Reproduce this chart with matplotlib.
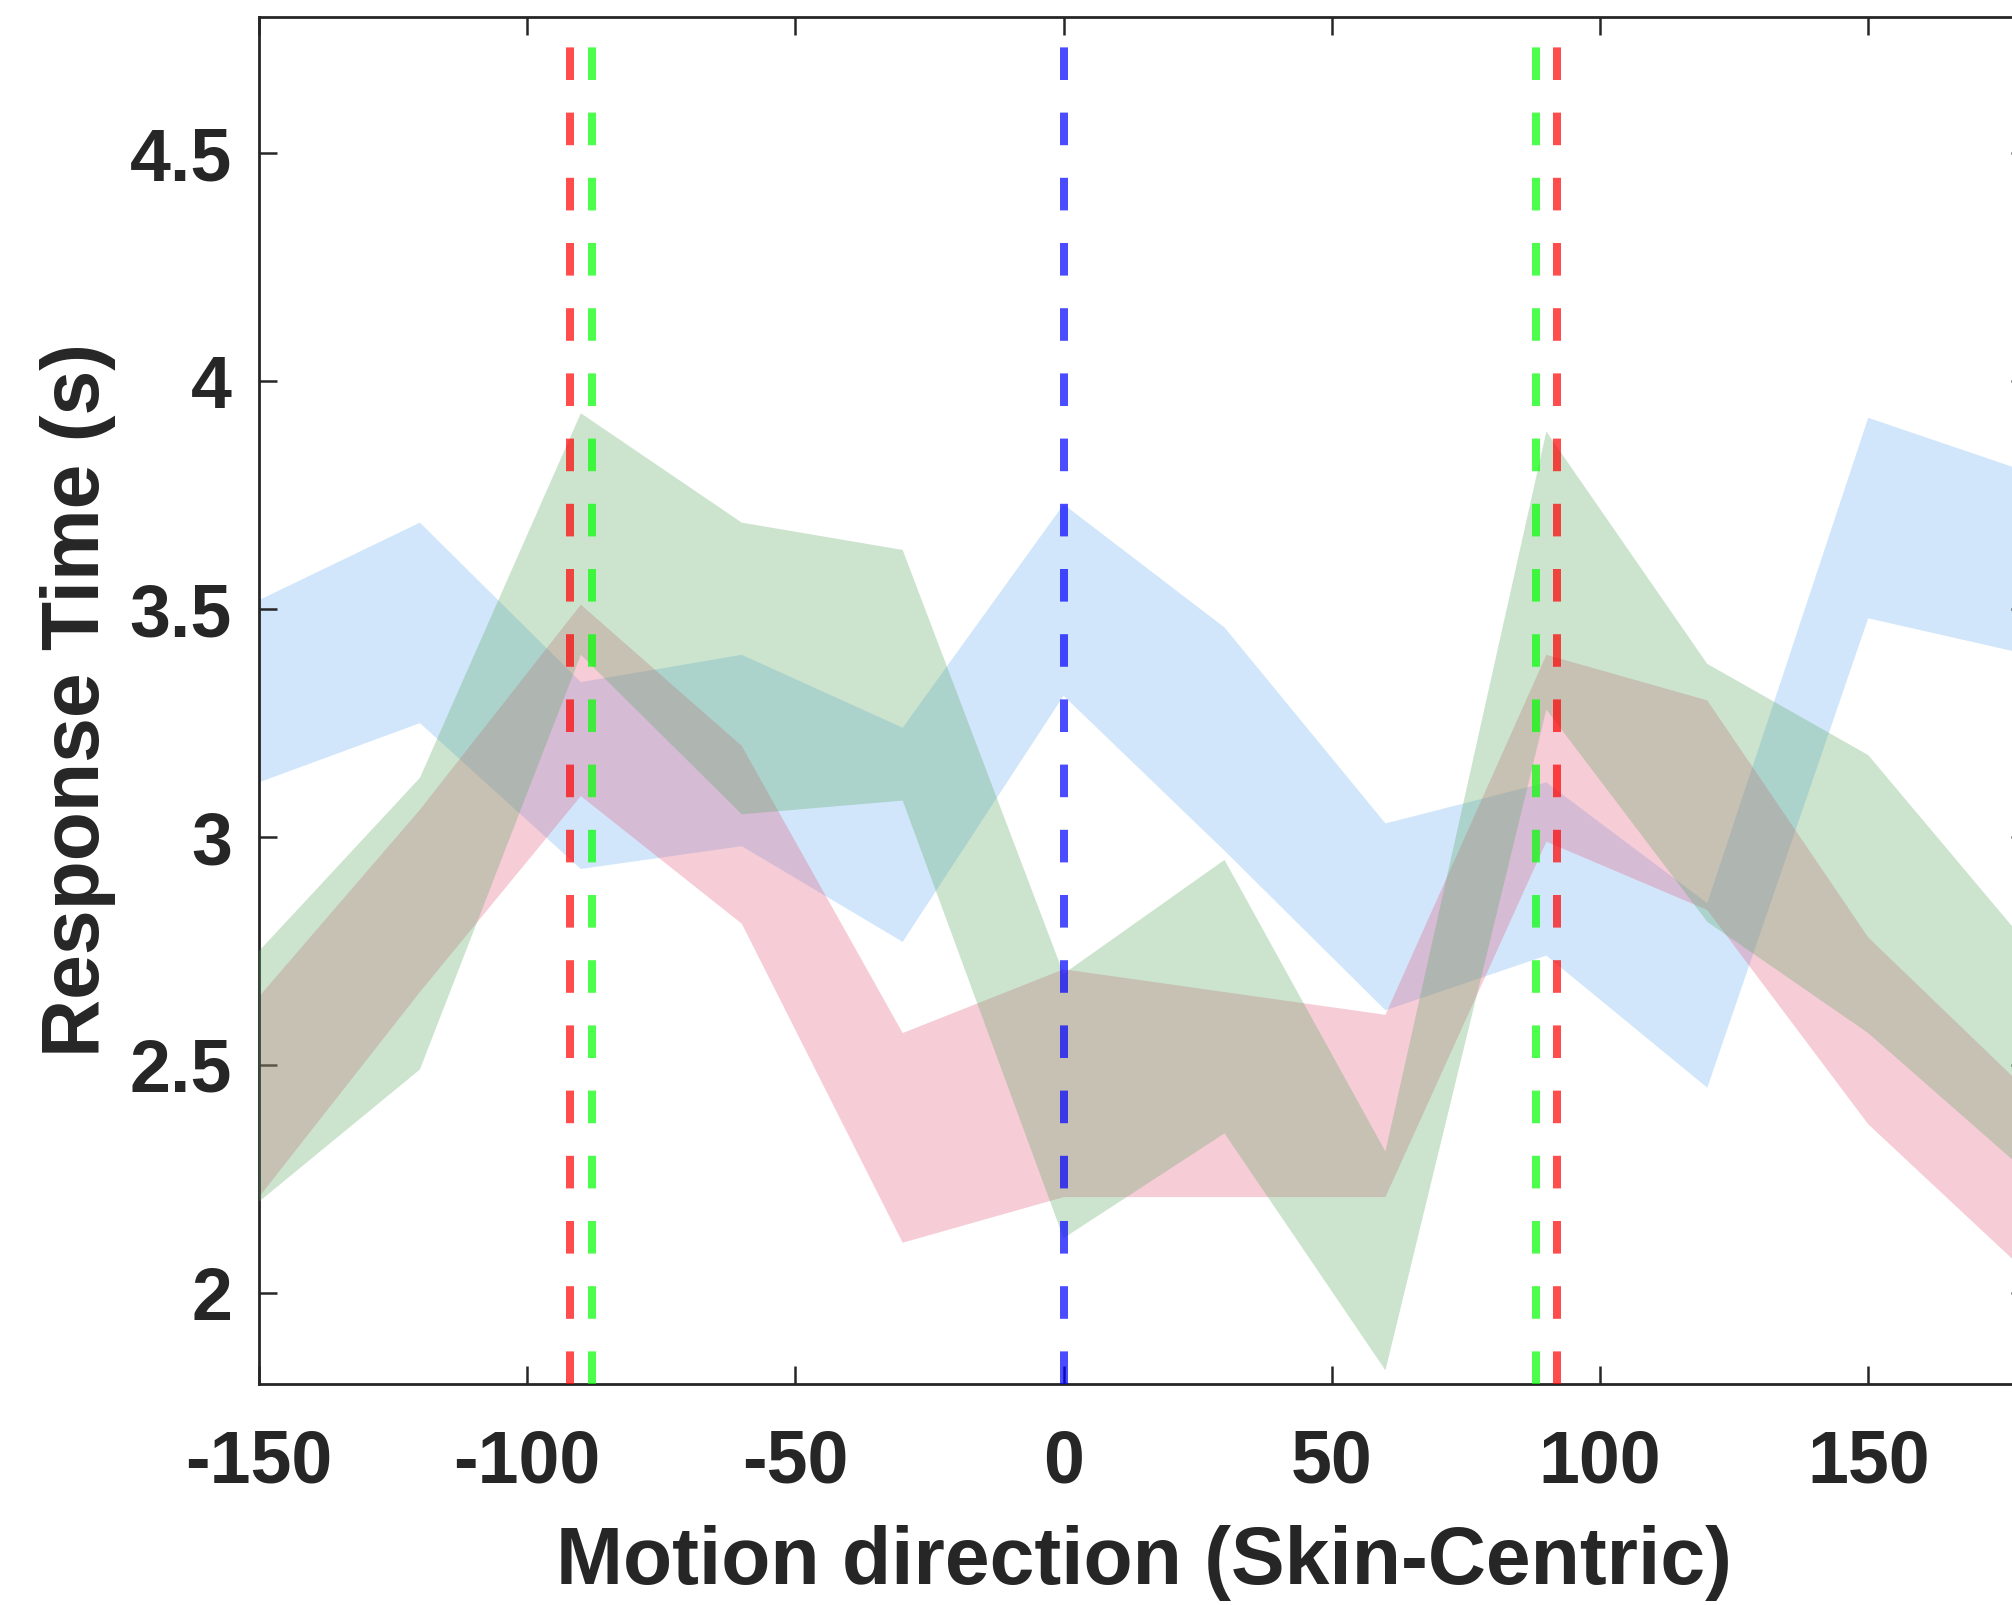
import matplotlib
matplotlib.use("Agg")
import matplotlib.pyplot as plt

plt.rcParams['font.family'] = ['Liberation Sans', 'DejaVu Sans']
plt.rcParams['axes.unicode_minus'] = False
plt.rcParams['lines.scale_dashes'] = False

# ---- data ----
directions = [-150, -120, -90, -60, -30, 0, 30, 60, 90, 120, 150, 180]

blue_upper = [3.52, 3.69, 3.34, 3.40, 3.24, 3.73, 3.46, 3.03, 3.12, 2.855, 3.92, 3.80]
blue_lower = [3.12, 3.25, 2.93, 2.98, 2.77, 3.31, 2.97, 2.62, 2.74, 2.45, 3.48, 3.40]

green_upper = [2.75, 3.13, 3.93, 3.69, 3.63, 2.70, 2.95, 2.31, 3.89, 3.38, 3.18, 2.76]
green_lower = [2.20, 2.49, 3.40, 3.05, 3.08, 2.12, 2.35, 1.83, 3.28, 2.814, 2.57, 2.26]

red_upper = [2.65, 3.06, 3.51, 3.20, 2.57, 2.71, 2.66, 2.61, 3.40, 3.30, 2.78, 2.44]
red_lower = [2.21, 2.66, 3.09, 2.81, 2.11, 2.21, 2.21, 2.21, 2.99, 2.84, 2.37, 2.04]

vline_red = [-92, 92]
vline_green = [-88, 88]
vline_blue = [0]

xticks = [-150, -100, -50, 0, 50, 100, 150]
xticklabels = ['-150', '-100', '-50', '0', '50', '100', '150']
yticks = [2, 2.5, 3, 3.5, 4, 4.5]
yticklabels = ['2', '2.5', '3', '3.5', '4', '4.5']

# ---- figure ----
W, H, DPI = 2012, 1605, 200
fig = plt.figure(figsize=(W / DPI, H / DPI), dpi=DPI)
ax_left = 259 / W
ax_right_px = 259 + 330 * 5.364
ax_bottom = 1 - 1384 / H
ax_top = 1 - 16.7 / H
ax = fig.add_axes([ax_left, ax_bottom, (ax_right_px - 259) / W, ax_top - ax_bottom])

TXT = '#262626'
ALPHA = 0.3
ax.fill_between(directions, blue_lower, blue_upper, facecolor=(105/255, 175/255, 245/255),
                alpha=ALPHA, linewidth=0, zorder=1)
ax.fill_between(directions, red_lower, red_upper, facecolor=(228/255, 88/255, 122/255),
                alpha=ALPHA, linewidth=0, zorder=2)
ax.fill_between(directions, green_lower, green_upper, facecolor=(88/255, 168/255, 95/255),
                alpha=ALPHA, linewidth=0, zorder=3)

lw_pt = 8 * 72 / DPI
dash_pt = 32.6 * 72 / DPI
for xv in vline_red:
    ax.plot([xv, xv], [1.8, 4.8], color=(1, 0, 0), alpha=0.7, lw=lw_pt,
            dashes=(dash_pt, dash_pt), zorder=5)
for xv in vline_green:
    ax.plot([xv, xv], [1.8, 4.8], color=(0, 1, 0), alpha=0.7, lw=lw_pt,
            dashes=(dash_pt, dash_pt), zorder=5)
for xv in vline_blue:
    ax.plot([xv, xv], [1.8, 4.8], color=(0, 0, 1), alpha=0.7, lw=lw_pt,
            dashes=(dash_pt, dash_pt), zorder=5)

ax.set_xticks(xticks)
ax.set_xticklabels(xticklabels)
ax.set_yticks(yticks)
ax.set_yticklabels(yticklabels)
ax.set_xlim(-150, 180)
ax.set_ylim(1.8, 4.8)

for sp in ax.spines.values():
    sp.set_color(TXT)
    sp.set_linewidth(1.0)
ax.tick_params(direction='in', length=6.5, width=0.9, color=TXT, top=True, right=True,
               labelsize=26.5, labelcolor=TXT)
ax.tick_params(axis='x', pad=16)
ax.tick_params(axis='y', pad=9.7)
for lab in ax.get_xticklabels() + ax.get_yticklabels():
    lab.set_fontweight('bold')

ax.set_xlabel('Motion direction (Skin-Centric)', fontsize=29, fontweight='bold',
              color=TXT, labelpad=10)
ax.set_ylabel('Response Time (s)', fontsize=29, fontweight='bold', color=TXT, labelpad=5)

fig.savefig('out.png', dpi=DPI)
